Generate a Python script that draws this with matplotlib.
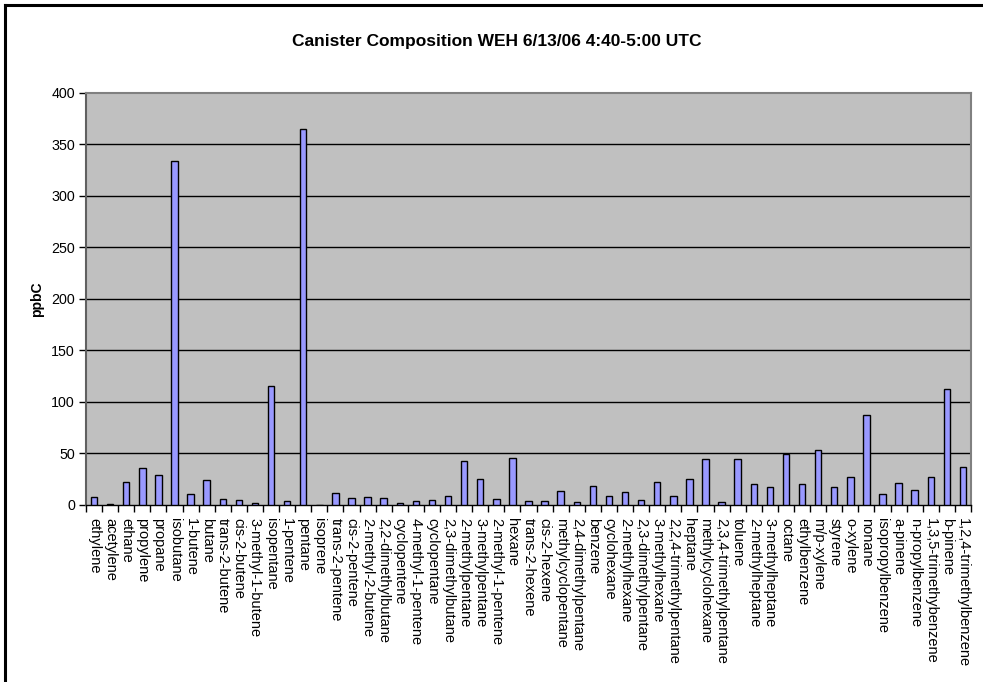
import matplotlib
matplotlib.use("Agg")
import matplotlib.pyplot as plt
from matplotlib.lines import Line2D
import numpy as np

plt.rcParams['font.family'] = ['Liberation Sans', 'DejaVu Sans']

categories = [
    "ethylene", "acetylene", "ethane", "propylene", "propane", "isobutane",
    "1-butene", "butane", "trans-2-butene", "cis-2-butene", "3-methyl-1-butene",
    "isopentane", "1-pentene", "pentane", "isoprene", "trans-2-pentene",
    "cis-2-pentene", "2-methyl-2-butene", "2,2-dimethylbutane", "cyclopentene",
    "4-methyl-1-pentene", "cyclopentane", "2,3-dimethylbutane", "2-methylpentane",
    "3-methylpentane", "2-methyl-1-pentene", "hexane", "trans-2-hexene",
    "cis-2-hexene", "methylcyclopentane", "2,4-dimethylpentane", "benzene",
    "cyclohexane", "2-methylhexane", "2,3-dimethylpentane", "3-methylhexane",
    "2,2,4-trimethylpentane", "heptane", "methylcyclohexane",
    "2,3,4-trimethylpentane", "toluene", "2-methylheptane", "3-methylheptane",
    "octane", "ethylbenzene", "m/p-xylene", "styrene", "o-xylene", "nonane",
    "isopropylbenzene", "a-pinene", "n-propylbenzene", "1,3,5-trimethybenzene",
    "b-pinene", "1,2,4-trimethylbenzene",
]

values = [
    7.5, 1.3, 22, 36, 29.5, 334,
    10.6, 24.5, 5.8, 4.8, 2.3,
    115.6, 3.9, 365, 0, 11.9,
    6.5, 8.1, 7.1, 2.3,
    3.9, 5.2, 8.4, 42.6,
    24.9, 5.5, 45.8, 3.9,
    3.9, 13.9, 3.2, 18.4,
    9.0, 12.6, 4.5, 22.6,
    8.7, 25.2, 44.5,
    3.2, 44.9, 20.7, 17.8,
    49.1, 20.0, 53.0, 17.4, 27.4, 87.5,
    10.3, 21.3, 14.5, 27.4,
    112.3, 36.5,
]

yticks = [0, 50, 100, 150, 200, 250, 300, 350, 400]
title = "Canister Composition WEH 6/13/06 4:40-5:00 UTC"
ylabel = "ppbC"

W, H = 983, 682
fig = plt.figure(figsize=(W / 100, H / 100), dpi=100)
fig.patch.set_facecolor('white')

# outer frame (left and top edges visible)
fig.add_artist(Line2D([5 / W, 5 / W], [0, 1 - 5 / H], transform=fig.transFigure,
                      color='black', lw=2.2))
fig.add_artist(Line2D([5 / W, 1], [1 - 5 / H, 1 - 5 / H], transform=fig.transFigure,
                      color='black', lw=2.2))

ax = fig.add_axes([86 / W, 1 - 505 / H, (971 - 86) / W, (505 - 92.5) / H])
ax.set_facecolor('#C0C0C0')

x = np.arange(len(categories))
ax.bar(x, values, width=0.4, color='#9999FF', edgecolor='black', linewidth=1.0, zorder=3)

ax.set_xlim(-0.5, len(categories) - 0.5)
ax.set_ylim(0, 400)
ax.set_yticks(yticks)
ax.set_yticklabels([str(t) for t in yticks], fontsize=10.3)
for t in yticks[1:-1]:
    ax.axhline(t, color='black', lw=1.0, zorder=1)

# x ticks at category boundaries, labels at centres
ax.set_xticks(np.arange(len(categories) + 1) - 0.5, minor=False)
ax.set_xticklabels([])
ax.set_xticks(x, minor=True)
ax.set_xticklabels(categories, minor=True, rotation=-90, fontsize=10.5,
                   ha='center', va='top')
ax.tick_params(axis='x', which='major', direction='out', length=5, width=1, color='black')
ax.tick_params(axis='x', which='minor', length=0, pad=9)
ax.tick_params(axis='y', direction='out', length=5, width=1, color='black', pad=3)

for s in ['top', 'right']:
    ax.spines[s].set_color('#808080')
    ax.spines[s].set_linewidth(1.5)
ax.spines['left'].set_color('#606060')
ax.spines['left'].set_linewidth(1.5)
ax.spines['bottom'].set_color('black')
ax.spines['bottom'].set_linewidth(1.0)

fig.text(497 / W, 1 - 41.5 / H, title, fontsize=12.5, fontweight='bold',
         ha='center', va='center')
fig.text(37 / W, 1 - 299 / H, ylabel, fontsize=10, fontweight='bold',
         rotation=90, ha='center', va='center')

fig.savefig('out.png', dpi=100)
